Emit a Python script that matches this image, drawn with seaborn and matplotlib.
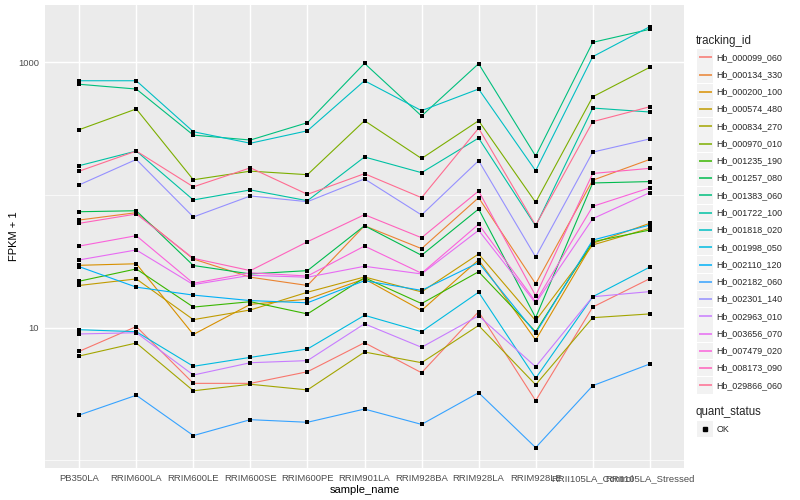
import numpy as np
import pandas as pd
import matplotlib
matplotlib.use('Agg')
import matplotlib.pyplot as plt
import seaborn as sns
from matplotlib.lines import Line2D
from matplotlib.patches import Rectangle
from matplotlib.ticker import FixedLocator, NullFormatter

# Samples on the x axis
samples = ['PB350LA', 'RRIM600LA', 'RRIM600LE', 'RRIM600SE', 'RRIM600PE', 'RRIM901LA',
           'RRIM928BA', 'RRIM928LA', 'RRIM928LE', 'RRII105LA_Control', 'RRII105LA_Stressed']

# FPKM + 1 per gene
hb_000099_060 = [6.64, 10.2, 3.81, 3.81, 4.66, 7.71, 4.58, 13.2, 2.82, 14.3, 23.4]
hb_000134_330 = [64.7, 73.5, 32.9, 24.0, 20.8, 58.6, 39.4, 95.3, 21.4, 129, 185]
hb_000200_100 = [29.5, 30.3, 8.89, 15.0, 16.4, 23.3, 13.5, 32.4, 8.08, 43.2, 61.1]
hb_000574_480 = [20.8, 23.3, 11.5, 13.6, 18.5, 24.1, 18.6, 35.9, 11.3, 42.0, 56.1]
hb_000834_270 = [6.12, 7.67, 3.35, 3.75, 3.40, 6.56, 5.45, 10.4, 3.72, 11.9, 12.7]
hb_000970_010 = [310, 444, 130, 151, 142, 362, 188, 362, 87.9, 548, 914]
hb_001235_190 = [22.4, 27.7, 14.3, 15.7, 12.7, 23.8, 15.2, 26.4, 9.33, 44.4, 54.4]
hb_001257_080 = [74.7, 76.0, 29.4, 25.4, 26.9, 58.6, 35.1, 78.3, 11.9, 123, 126]
hb_001383_060 = [681, 627, 282, 259, 350, 979, 393, 973, 196, 1409, 1766]
hb_001722_100 = [166, 214, 91.6, 109, 90.4, 193, 147, 268, 58.3, 451, 421]
hb_001818_020 = [724, 724, 299, 245, 304, 724, 431, 627, 152, 1099, 1849]
hb_001998_050 = [9.66, 9.33, 5.12, 5.98, 6.91, 12.4, 9.33, 18.5, 4.16, 17.1, 28.6]
hb_002110_120 = [28.8, 20.2, 17.6, 16.0, 15.4, 22.6, 19.1, 30.9, 9.08, 45.7, 59.3]
hb_002182_060 = [2.20, 3.10, 1.54, 2.03, 1.94, 2.44, 1.87, 3.24, 1.25, 3.66, 5.33]
hb_002301_140 = [119, 185, 68.2, 98.2, 88.9, 132, 70.6, 181, 34.1, 210, 264]
hb_002963_010 = [8.97, 9.17, 4.40, 5.45, 5.65, 10.7, 7.12, 12.3, 5.08, 17.1, 18.7]
hb_003656_070 = [32.4, 38.5, 21.1, 24.8, 24.0, 29.0, 25.4, 54.1, 15.3, 66.2, 104]
hb_007479_020 = [41.2, 49.3, 21.6, 25.9, 24.5, 41.2, 25.7, 60.1, 15.7, 82.0, 113]
hb_008173_090 = [61.1, 71.8, 33.3, 26.9, 44.4, 71.0, 47.6, 107, 17.4, 145, 158.5]
hb_029866_060 = [151, 214, 115, 160, 101, 144.5, 95.3, 318, 59.0, 356, 461]

series = {
    'Hb_000099_060': hb_000099_060, 'Hb_000134_330': hb_000134_330,
    'Hb_000200_100': hb_000200_100, 'Hb_000574_480': hb_000574_480,
    'Hb_000834_270': hb_000834_270, 'Hb_000970_010': hb_000970_010,
    'Hb_001235_190': hb_001235_190, 'Hb_001257_080': hb_001257_080,
    'Hb_001383_060': hb_001383_060, 'Hb_001722_100': hb_001722_100,
    'Hb_001818_020': hb_001818_020, 'Hb_001998_050': hb_001998_050,
    'Hb_002110_120': hb_002110_120, 'Hb_002182_060': hb_002182_060,
    'Hb_002301_140': hb_002301_140, 'Hb_002963_010': hb_002963_010,
    'Hb_003656_070': hb_003656_070, 'Hb_007479_020': hb_007479_020,
    'Hb_008173_090': hb_008173_090, 'Hb_029866_060': hb_029866_060,
}
tracking_ids = list(series.keys())

# ggplot2 default hue palette for 20 levels
colors = ['#F8766D', '#EA8331', '#D89000', '#C09B00', '#A3A500', '#7CAE00', '#39B600',
          '#00BB4E', '#00BF7D', '#00C1A3', '#00BFC4', '#00BAE0', '#00B0F6', '#35A2FF',
          '#9590FF', '#C77CFF', '#E76BF3', '#FA62DB', '#FF62BC', '#FF6C91']

rows = []
for tid, vals in series.items():
    for s, v in zip(samples, vals):
        rows.append({'tracking_id': tid, 'sample_name': s, 'fpkm': v, 'quant_status': 'OK'})
df = pd.DataFrame(rows)

sns.set_theme(style='darkgrid')
plt.rcParams['font.family'] = ['Liberation Sans', 'DejaVu Sans']

W, H = 800, 500
fig = plt.figure(figsize=(8, 5), dpi=100)
ax = fig.add_axes([45 / W, 1 - 468 / H, 639 / W, 463 / H])
ax.set_facecolor('#EBEBEB')

sns.lineplot(data=df, x='sample_name', y='fpkm', hue='tracking_id',
             hue_order=tracking_ids, palette=colors, sort=False,
             linewidth=0.8, legend=False, ax=ax)
sns.scatterplot(data=df, x='sample_name', y='fpkm', color='black', marker='s',
                s=9, linewidth=0, legend=False, ax=ax, zorder=5)

ax.set_yscale('log')
ax.set_ylim(0.878, 2692)
ax.set_xlim(-0.6, 10.6)
ax.yaxis.set_major_locator(FixedLocator([10, 1000]))
ax.yaxis.set_minor_locator(FixedLocator([1, 100]))
ax.yaxis.set_minor_formatter(NullFormatter())
ax.set_yticklabels(['10', '1000'])

ax.grid(which='major', color='white', linewidth=1.05)
ax.grid(which='minor', axis='y', color='white', linewidth=0.5)
ax.set_axisbelow(True)
for sp in ax.spines.values():
    sp.set_visible(False)

ax.tick_params(axis='both', which='major', length=2.7, width=0.7, color='#333333',
               labelsize=6.8, labelcolor='#4D4D4D', pad=1.6)
ax.tick_params(axis='y', which='minor', length=0)

ax.set_xlabel('sample_name', fontsize=8, color='black')
ax.set_ylabel('FPKM + 1', fontsize=8, color='black')
ax.xaxis.set_label_coords(0.5, -0.047)
ax.xaxis.label.set_va('center')
ax.yaxis.set_label_coords(-0.048, 0.5)
ax.yaxis.label.set_va('center')


def fx(x):
    return x / W


def fy(y):
    return 1 - y / H


# Legend for tracking_id, drawn in ggplot style
fig.text(fx(696), fy(40.7), 'tracking_id', fontsize=8.3, va='center', ha='left')
step = 17.27
for i, (tid, col) in enumerate(zip(tracking_ids, colors)):
    yc = 57.3 + i * step
    fig.add_artist(Rectangle((fx(697), fy(yc + 8.2)), 16 / W, 16.4 / H,
                             facecolor='#F2F2F2', edgecolor='none', zorder=1))
    fig.add_artist(Line2D([fx(698.5), fx(712)], [fy(yc), fy(yc)], color=col,
                          linewidth=1.1, solid_capstyle='butt', zorder=3))
    fig.text(fx(716.5), fy(yc), tid, fontsize=6.4, va='center', ha='left')

# Legend for quant_status
fig.text(fx(696), fy(412.3), 'quant_status', fontsize=8.3, va='center', ha='left')
fig.add_artist(Rectangle((fx(697), fy(429 + 8.2)), 16 / W, 16.4 / H,
                         facecolor='#F2F2F2', edgecolor='none', zorder=1))
fig.add_artist(Line2D([fx(705)], [fy(429)], marker='s', markersize=2.8,
                      color='black', linestyle='none', zorder=3))
fig.text(fx(716.5), fy(429), 'OK', fontsize=6.4, va='center', ha='left')

fig.savefig('out.png', dpi=100, facecolor='white')
